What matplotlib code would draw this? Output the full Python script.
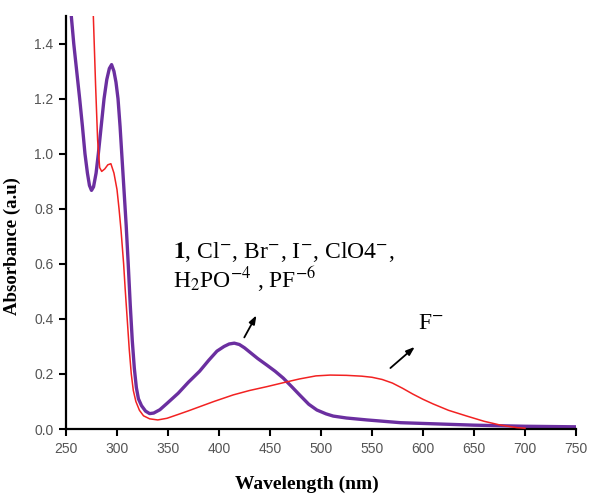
import matplotlib
matplotlib.use('Agg')
import matplotlib.pyplot as plt
import matplotlib.ticker as ticker

# --- data ---
# receptor 1 alone and with Cl-, Br-, I-, ClO4-, H2PO4-, PF6- (all overlap)
wl_free = [255.2, 257.6, 260.5, 263.4, 266.1, 268.6, 271, 273, 275, 277, 279.5, 281.7,
           284.5, 287.3, 290, 292.5, 294.7, 297, 299, 301, 303, 305, 307, 309, 311,
           313, 315, 317, 319, 321, 324, 328, 332, 336, 342, 349, 360, 370, 381,
           390, 398, 405, 410, 415, 420, 425, 430, 438, 447, 455, 463, 471, 479,
           488, 496, 505, 512, 525, 545, 578, 610, 650, 700, 750]
abs_free = [1.50, 1.40, 1.30, 1.20, 1.10, 1.00, 0.93, 0.885, 0.867, 0.88, 0.93, 1.00,
            1.10, 1.20, 1.27, 1.31, 1.324, 1.30, 1.26, 1.20, 1.10, 0.98, 0.86, 0.74,
            0.60, 0.45, 0.32, 0.22, 0.15, 0.11, 0.085, 0.065, 0.056, 0.058, 0.07,
            0.093, 0.13, 0.17, 0.21, 0.25, 0.283, 0.30, 0.309, 0.312, 0.307, 0.295,
            0.28, 0.256, 0.232, 0.21, 0.185, 0.155, 0.124, 0.09, 0.069, 0.055, 0.047,
            0.04, 0.033, 0.023, 0.019, 0.014, 0.01, 0.008]

# receptor 1 + F-
wl_f = [276.8, 279, 281, 283, 285, 288, 291, 294, 297, 300, 302, 304, 306.5, 308,
        310, 312, 314, 316, 318.5, 322, 326, 332, 340, 349, 360, 370, 381, 395,
        414, 430, 447, 465, 479, 495, 509, 525, 540, 550, 560, 570, 580, 590, 600,
        610, 625, 643, 660, 675, 692, 700]
abs_f = [1.50, 1.25, 1.05, 0.95, 0.936, 0.945, 0.96, 0.964, 0.93, 0.87, 0.80, 0.72,
         0.60, 0.51, 0.40, 0.29, 0.20, 0.14, 0.10, 0.068, 0.048, 0.037, 0.033,
         0.039, 0.053, 0.066, 0.081, 0.10, 0.124, 0.14, 0.154, 0.17, 0.182, 0.193,
         0.196, 0.195, 0.192, 0.188, 0.18, 0.167, 0.148, 0.127, 0.108, 0.091,
         0.068, 0.047, 0.028, 0.015, 0.005, 0.003]

x_ticks = [250, 300, 350, 400, 450, 500, 550, 600, 650, 700, 750]
y_ticks = [0.0, 0.2, 0.4, 0.6, 0.8, 1.0, 1.2, 1.4]

label_free_1 = r'$\mathbf{1}$, Cl$^{-}$, Br$^{-}$, I$^{-}$, ClO4$^{-}$,'
label_free_2 = r'H$_2$PO$^{-4}$ , PF$^{-6}$'
label_f = r'F$^{-}$'

plt.rcParams['mathtext.fontset'] = 'stix'

fig = plt.figure(figsize=(5.93, 4.95), dpi=100)
ax = fig.add_axes([0.1113, 0.1333, 0.860, 0.834])

ax.plot(wl_free, abs_free, color='#6B2FA0', lw=2.4, solid_capstyle='round',
        solid_joinstyle='round', zorder=2)
ax.plot(wl_f, abs_f, color='#F22222', lw=1.1, zorder=3)

ax.set_xlim(250, 750)
ax.set_ylim(0, 1.5)
ax.set_xticks(x_ticks)
ax.set_yticks(y_ticks)
ax.xaxis.set_major_formatter(ticker.FormatStrFormatter('%d'))
ax.yaxis.set_major_formatter(ticker.FormatStrFormatter('%.1f'))

# spines / ticks like the Origin export
for side in ['top', 'right']:
    ax.spines[side].set_visible(False)
for side in ['left', 'bottom']:
    ax.spines[side].set_linewidth(1.6)
ax.tick_params(direction='out', length=5, width=1.5, pad=4,
               labelsize=10, labelcolor='#555555')
for lab in ax.get_xticklabels() + ax.get_yticklabels():
    lab.set_family('Liberation Sans')

ax.set_xlabel('Wavelength (nm)', family='Liberation Serif', fontweight='bold', fontsize=14)
ax.set_ylabel('Absorbance (a.u)', family='Liberation Serif', fontweight='bold', fontsize=13.5)
ax.xaxis.set_label_coords(0.472, -0.114)
ax.yaxis.set_label_coords(-0.088, 0.443)

# annotations
txt = dict(family='Liberation Serif', fontsize=17, va='baseline', ha='left')
ax.text(355, 0.622, label_free_1, **txt)
ax.text(355, 0.513, label_free_2, **txt)
ax.text(595, 0.364, label_f, **txt)

arrow = dict(arrowstyle='-|>,head_length=0.5,head_width=0.18', color='black', lw=1.3)
ax.annotate('', xy=(438, 0.422), xytext=(423.5, 0.324), arrowprops=arrow)
ax.annotate('', xy=(594, 0.305), xytext=(566, 0.215), arrowprops=arrow)

fig.savefig('out.png', dpi=100)
